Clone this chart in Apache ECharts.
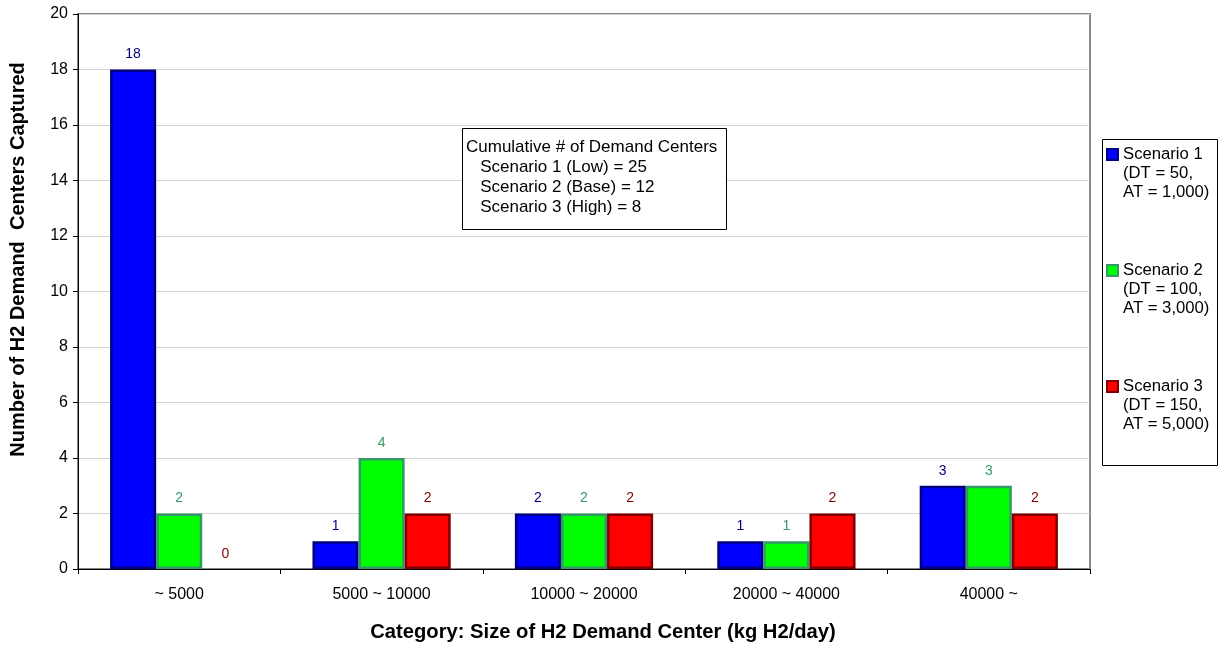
<!DOCTYPE html>
<html><head><meta charset="utf-8">
<script src="https://cdn.jsdelivr.net/npm/echarts@6/dist/echarts.min.js"></script>
<style>html,body{margin:0;padding:0;background:#fff}#c{width:1221px;height:647px}</style>
</head><body><div id="c"></div>
<script>
const categories = ['~ 5000', '5000 ~ 10000', '10000 ~ 20000', '20000 ~ 40000', '40000 ~'];
const scenario1 = [18, 1, 2, 1, 3];
const scenario2 = [2, 4, 2, 1, 3];
const scenario3 = [0, 2, 2, 2, 2];
const seriesNames = ['Scenario 1\n(DT = 50,\nAT = 1,000)', 'Scenario 2\n(DT = 100,\nAT = 3,000)', 'Scenario 3\n(DT = 150,\nAT = 5,000)'];
const yTicks = [0, 2, 4, 6, 8, 10, 12, 14, 16, 18, 20];
const noteLines = ['Cumulative # of Demand Centers', '   Scenario 1 (Low) = 25', '   Scenario 2 (Base) = 12', '   Scenario 3 (High) = 8'];

const FONT = '"Liberation Sans", Arial, sans-serif';
const fills = ['#0000ff', '#00ff00', '#ff0000'];
const borders = ['#000080', '#339966', '#800000'];
const labelColors = ['#000080', '#339966', '#800000'];
const data = [scenario1, scenario2, scenario3];

const chart = echarts.init(document.getElementById('c'));
chart.setOption({
  animation: false,
  textStyle: { fontFamily: FONT },
  grid: { left: 78, right: 131, top: 14, bottom: 77, show: true, borderColor: '#888', borderWidth: 2, backgroundColor: 'transparent' },
  legend: {
    orient: 'vertical', left: 1101, top: 102,
    itemWidth: 11, itemHeight: 11, itemGap: 21,
    icon: 'rect',
    formatter: name => '\n\n' + name,
    textStyle: { fontFamily: FONT, fontSize: 16.7, color: '#000', lineHeight: 19 },
    data: seriesNames
  },
  xAxis: {
    type: 'category', data: categories,
    axisLine: { lineStyle: { color: '#000', width: 1 } },
    axisTick: { show: true, length: 5, lineStyle: { color: '#000' } },
    axisLabel: { fontSize: 16, color: '#000', margin: 18, fontFamily: FONT },
    name: 'Category: Size of H2 Demand Center (kg H2/day)',
    nameLocation: 'middle', nameGap: 53,
    nameTextStyle: { fontSize: 20.2, fontWeight: 'bold', color: '#000', fontFamily: FONT, padding: [0, 0, 0, 38] }
  },
  yAxis: {
    type: 'value', min: yTicks[0], max: yTicks[yTicks.length - 1], interval: 2,
    axisLine: { show: true, lineStyle: { color: '#000', width: 1 } },
    axisTick: { show: true, length: 5, lineStyle: { color: '#000' } },
    axisLabel: { fontSize: 16, color: '#000', margin: 10, fontFamily: FONT },
    splitLine: { lineStyle: { color: '#d4d4d4', width: 1 } },
    name: 'Number of H2 Demand  Centers Captured',
    nameLocation: 'middle', nameGap: 50, nameRotate: 90,
    nameTextStyle: { fontSize: 20, fontWeight: 'bold', color: '#000', fontFamily: FONT, padding: [0, 0, 0, 64] }
  },
  series: data.map((d, i) => ({
    name: seriesNames[i], type: 'bar',
    data: d.map(v => v === 0 ? { value: v, itemStyle: { borderWidth: 0 } } : v),
    barGap: '0%', barCategoryGap: '31.7%',
    itemStyle: { color: fills[i], borderColor: borders[i], borderWidth: 2.5 },
    label: { show: true, position: 'top', distance: 8, fontSize: 14, color: labelColors[i], fontFamily: FONT }
  })),
  graphic: [
    { type: 'rect', left: 1100, top: 137, shape: { width: 115, height: 326 }, style: { fill: 'none', stroke: '#000', lineWidth: 1 }, z: 100 },
    { type: 'rect', left: 462, top: 128, shape: { width: 264, height: 101 }, style: { fill: '#fff', stroke: '#000', lineWidth: 1 }, z: 100 },
    { type: 'text', left: 466, top: 137, style: { text: noteLines.join('\n'), font: '17px ' + FONT, lineHeight: 20, fill: '#000' }, z: 101 }
  ]
});
</script></body></html>
